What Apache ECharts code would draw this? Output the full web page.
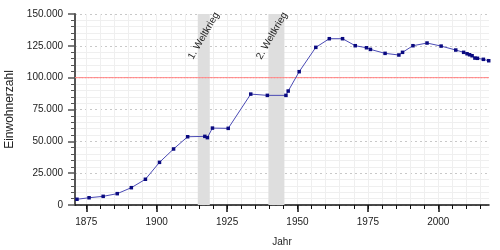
<!DOCTYPE html>
<html>
<head>
<meta charset="utf-8">
<script src="https://cdn.jsdelivr.net/npm/echarts@6/dist/echarts.min.js"></script>
<style>html,body{margin:0;padding:0;background:#fff}#c{width:500px;height:250px}</style>
</head>
<body>
<div id="c"></div>
<script>
// Data (x = plotted year position, y = inhabitants)
const years = [1871.7, 1876, 1881, 1886, 1891, 1896, 1901, 1906, 1911, 1917.1, 1918, 1919.8, 1925.4, 1933.4, 1939.3, 1945.9, 1946.7, 1950.6, 1956.5, 1961.3, 1966, 1970.5, 1974.5, 1975.9, 1981.1, 1986, 1987.3, 1991, 1996, 2001, 2006.2, 2009, 2010.2, 2011.1, 2012, 2013, 2013.9, 2016, 2017.9];
const population = [4500, 5700, 6800, 8900, 13600, 20200, 33500, 44000, 53600, 53900, 52900, 60400, 60200, 87100, 86100, 86100, 89500, 104700, 123800, 130600, 130600, 125100, 123500, 122200, 119100, 117800, 119900, 125100, 127200, 124800, 121700, 119900, 118800, 118000, 117200, 115400, 115200, 114400, 113300];
const xTickLabels = [1875, 1900, 1925, 1950, 1975, 2000];
const xMinorTicks = [1875,1880,1885,1890,1895,1900,1905,1910,1915,1920,1925,1930,1935,1940,1945,1950,1955,1960,1965,1970,1975,1980,1985,1990,1995,2000,2005,2010,2015];
const warNames = ['1. Weltkrieg', '2. Weltkrieg'];
const warSpans = [[1914.6, 1918.86], [1939.67, 1945.35]];
const warLabelAnchors = [[1922, 150000], [1946.2, 150000]];
const referenceLine = 100000;

const fmt = v => String(v).replace(/\B(?=(\d{3})+(?!\d))/g, '.');
const chart = echarts.init(document.getElementById('c'), null, {renderer: 'canvas'});
const font = 'Liberation Sans, Arial, sans-serif';
chart.setOption({
  animation: false,
  textStyle: {fontFamily: font},
  grid: {left: 75, right: 11, top: 14, bottom: 45, containLabel: false, outerBoundsMode: 'none'},
  xAxis: [{
    type: 'value', min: 1871, max: 2018,
    name: 'Jahr', nameLocation: 'middle', nameGap: 32,
    nameTextStyle: {fontSize: 10, color: '#222', fontFamily: font},
    axisLine: {show: true, lineStyle: {color: '#111', width: 1.5}},
    axisTick: {show: true, inside: false, length: 7, customValues: xTickLabels, lineStyle: {color: '#111', width: 1.5}},
    axisLabel: {customValues: xTickLabels, fontSize: 10, color: '#222', margin: 12, fontFamily: font, formatter: v => String(v)},
    splitLine: {show: true, lineStyle: {color: '#c8c8c8', type: [2, 3], width: 1}}
  }, {
    type: 'value', min: 1871, max: 2018, position: 'bottom',
    axisLine: {show: false},
    axisTick: {show: true, length: 4, customValues: xMinorTicks, lineStyle: {color: '#111', width: 1}},
    axisLabel: {show: false},
    splitLine: {show: true, lineStyle: {color: '#efefef', width: 1}}
  }],
  yAxis: {
    type: 'value', min: 0, max: 150000, interval: 25000,
    name: 'Einwohnerzahl', nameLocation: 'middle', nameGap: 59, nameRotate: 90,
    nameTextStyle: {fontSize: 12, color: '#222', fontFamily: font},
    axisLine: {show: true, lineStyle: {color: '#555', width: 2}},
    axisTick: {show: true, length: 7, lineStyle: {color: '#555', width: 1.5}},
    minorTick: {show: true, splitNumber: 5, length: 4, lineStyle: {color: '#555', width: 1}},
    minorSplitLine: {show: true, lineStyle: {color: '#efefef', width: 1}},
    axisLabel: {fontSize: 10, color: '#222', margin: 12, formatter: v => fmt(v), fontFamily: font},
    splitLine: {show: true, lineStyle: {color: '#c8c8c8', type: [2, 3], width: 1}}
  },
  series: [{
    type: 'line',
    xAxisIndex: 0,
    data: years.map((y, i) => [y, population[i]]),
    symbol: 'rect', symbolSize: 3.5, showSymbol: true,
    lineStyle: {color: '#4a4ab4', width: 1},
    itemStyle: {color: '#0a0a80'},
    z: 5,
    markArea: {
      silent: true,
      itemStyle: {color: '#dedede', opacity: 1},
      data: warSpans.map(s => [{xAxis: s[0]}, {xAxis: s[1]}]).concat([[
        {yAxis: referenceLine, itemStyle: {color: 'transparent', borderColor: '#ff8888', borderWidth: 1, borderType: [2, 1]}},
        {yAxis: referenceLine}
      ]])
    },
    markPoint: {
      silent: true,
      symbol: 'circle', symbolSize: 1,
      itemStyle: {color: 'transparent'},
      label: {
        show: true, position: 'inside', rotate: 60, align: 'right', verticalAlign: 'middle',
        offset: [0, -2],
        formatter: p => p.name, fontSize: 10, color: '#222', fontFamily: font
      },
      data: warLabelAnchors.map((a, i) => ({coord: a, name: warNames[i]}))
    }
  }]
});
</script>
</body>
</html>
